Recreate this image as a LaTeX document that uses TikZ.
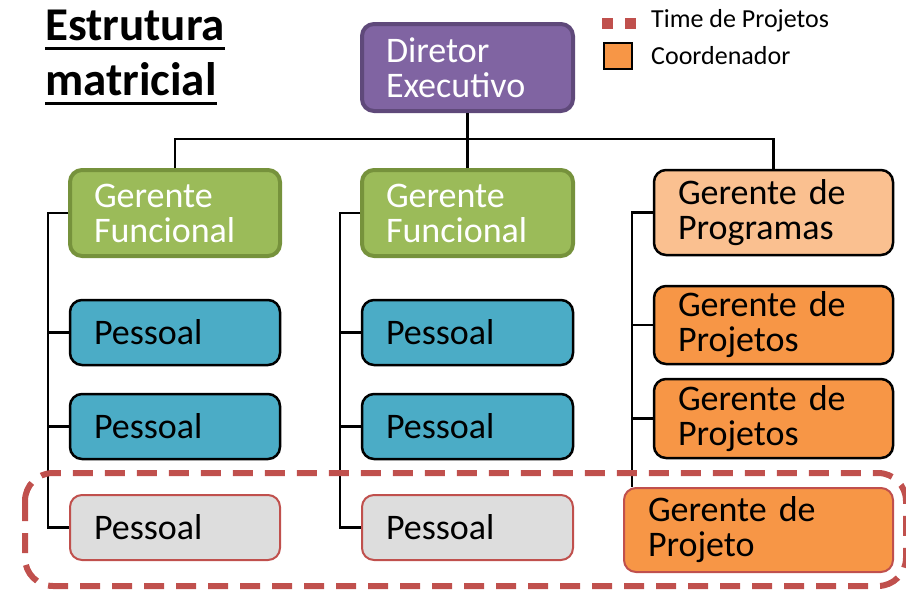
\documentclass[tikz,border=0pt]{standalone}
\usepackage{fontspec}
\setmainfont{Carlito}
\usetikzlibrary{positioning}

\definecolor{roxo}{HTML}{8064A2}
\definecolor{roxoborda}{HTML}{5F497A}
\definecolor{verde}{HTML}{9BBB59}
\definecolor{verdeborda}{HTML}{76923C}
\definecolor{azul}{HTML}{4BACC6}
\definecolor{laranja}{HTML}{F79646}
\definecolor{pessego}{HTML}{FAC090}
\definecolor{cinza}{HTML}{DDDDDD}
\definecolor{vermelho}{HTML}{C0504D}

\tikzset{
  box/.style={draw, rounded corners=12pt, align=left, inner xsep=24pt, inner ysep=0pt,
    line width=2.5pt, font=\fontsize{36}{35}\selectfont},
  diretor/.style={box, fill=roxo, draw=roxoborda, line width=4pt, text=white},
  funcional/.style={box, fill=verde, draw=verdeborda, line width=4pt, text=white},
  pessoal/.style={box, fill=azul, text width=162pt, minimum height=65pt},
  programa/.style={box, fill=pessego, text width=191pt},
  projeto/.style={box, fill=laranja, text width=191pt},
  equipe/.style={box, fill=cinza, draw=vermelho, line width=2pt, text width=162pt, minimum height=65pt},
  ligacao/.style={line width=2.5pt, black},
  time/.style={draw=vermelho, line width=6pt, dash pattern=on 20pt off 12pt},
  legenda/.style={anchor=base west, inner sep=0pt, font=\fontsize{26}{26}\selectfont}
}

\begin{document}
\begin{tikzpicture}[x=1pt,y=-1pt]
\useasboundingbox (0,0) rectangle (906,592);

% Title
\node [anchor=base west, inner sep=0pt, font=\fontsize{47}{47}\bfseries] (tit1) at (45,40) {Estrutura};
\node [anchor=base west, inner sep=0pt, font=\fontsize{47}{47}\bfseries] (tit2) at (45,95) {matricial};
\draw [line width=3pt] ([yshift=-8pt]tit1.base west) -- ([yshift=-8pt]tit1.base east);
\draw [line width=3pt] ([yshift=-8pt]tit2.base west) -- ([yshift=-8pt]tit2.base east);

% Legend
\draw [time, line width=11pt, dash pattern=on 11pt off 12pt] (602,23) -- (638,23);
\node [legenda] (leg1) at (651,27) {Time de Projetos};
\filldraw [fill=laranja, draw=black, line width=2.5pt] (604,43) rectangle (632,69);
\node [legenda] (leg2) at (651,64) {Coordenador};

% Top
\node [diretor, text width=163pt, minimum height=87pt] (dir) at (467.5,67.5) {Diretor\\Executivo};

% Second row
\node [funcional, text width=162pt, minimum height=86pt] (gf1) at (175,213) {Gerente\\Funcional};
\node [funcional, text width=163pt, minimum height=86pt] (gf2) at (467.5,213) {Gerente\\Funcional};
\node [programa, minimum height=85pt] (prog) at (773.5,212.5) {Gerente de\\Programas};

% Rows of staff
\node [pessoal] (p11) at (175,332.5) {Pessoal};
\node [pessoal] (p12) at (175,426.5) {Pessoal};
\node [pessoal, text width=163pt] (p21) at (467.5,332.5) {Pessoal};
\node [pessoal, text width=163pt] (p22) at (467.5,426.5) {Pessoal};
\node [projeto, minimum height=78pt] (proj1) at (773.5,325) {Gerente de\\Projetos};
\node [projeto, minimum height=79pt] (proj2) at (773.5,418.5) {Gerente de\\Projetos};

% Bottom row
\node [equipe] (c1) at (175,527.5) {Pessoal};
\node [equipe, text width=163pt] (c2) at (467.5,527.5) {Pessoal};
\node [projeto, draw=vermelho, line width=2pt, text width=221pt, minimum height=84pt] (gp) at (758.5,530) {Gerente de\\Projeto};

% Top connections
\coordinate (barra) at (467.5,139);
\draw [ligacao] (gf2.north) -- (dir.south);
\draw [ligacao] (gf1.north) |- (barra) -| (prog.north);

% Vertical connections
\coordinate (t1) at (48,213);
\coordinate (t2) at (340,213);
\coordinate (t3) at (632,212.5);
\draw [ligacao] (gf1.west) -- (t1) |- (c1.west);
\draw [ligacao] (gf2.west) -- (t2) |- (c2.west);
\draw [ligacao] (prog.west) -- (t3) -- (t3 |- gp.north);

\foreach \n in {p11,p12}
\draw [ligacao] (\n.west) -- (\n.west -| t1);

\foreach \n in {p21,p22}
\draw [ligacao] (\n.west) -- (\n.west -| t2);

\foreach \n in {proj1,proj2}
\draw [ligacao] (\n.west) -- (\n.west -| t3);

% Team frame
\draw [time, rounded corners=28pt] (25,473) rectangle (906,586);

\end{tikzpicture}
\end{document}
